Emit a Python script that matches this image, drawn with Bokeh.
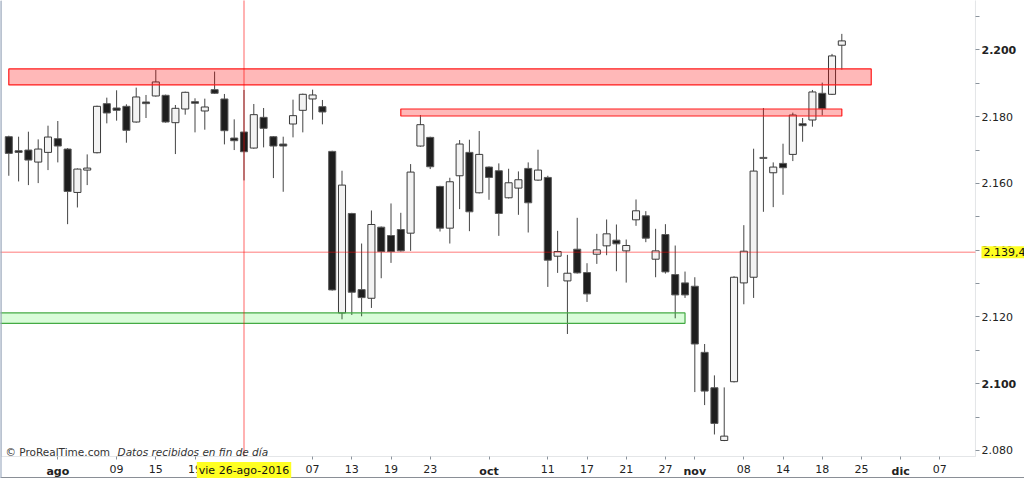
from bokeh.plotting import figure
from bokeh.models import (FixedTicker, Label, Span, ColumnDataSource, Range1d, LinearAxis,
                          BoxAnnotation)
from bokeh.embed import file_html
from bokeh.resources import INLINE

# ---- data: daily candles (S&P 500, 25-jul-2016 .. 22-nov-2016), trading-day index on x ----
opens = [2174.0, 2169.8, 2170.0, 2166.4, 2169.3, 2173.4, 2170.3, 2157.3, 2164.0, 2169.2,
         2183.9, 2182.6, 2183.1, 2178.4, 2184.4, 2186.2, 2186.4, 2178.2, 2182.3, 2184.5,
         2181.7, 2188.1, 2185.3, 2173.6, 2175.4, 2170.6, 2179.8, 2174.0, 2171.8, 2177.8,
         2181.9, 2185.3, 2183.0, 2169.6, 2121.2, 2151.0, 2128.2, 2125.6, 2146.9, 2144.4,
         2146.2, 2145.1, 2171.2, 2173.8, 2159.1, 2146.6, 2162.3, 2169.3, 2157.2, 2164.9,
         2163.8, 2155.7, 2158.6, 2164.5, 2161.0, 2161.8, 2138.2, 2130.8, 2140.3, 2133.3,
         2138.8, 2141.3, 2143.0, 2139.8, 2149.1, 2150.3, 2137.3, 2144.7, 2132.7, 2130.2,
         2129.2, 2109.4, 2098.8, 2083.0, 2100.6, 2130.2, 2131.9, 2167.8, 2163.2, 2166.0,
         2168.7, 2177.9, 2179.0, 2187.0, 2186.7, 2201.4]
highs = [2174.3, 2174.0, 2175.5, 2173.2, 2177.3, 2178.7, 2170.6, 2164.5, 2168.7, 2183.3,
         2185.7, 2187.9, 2183.7, 2188.7, 2186.5, 2194.0, 2186.6, 2183.5, 2187.5, 2185.5,
         2185.4, 2193.5, 2186.8, 2179.2, 2188.0, 2183.8, 2182.6, 2174.2, 2174.0, 2185.1,
         2186.9, 2188.1, 2185.0, 2169.8, 2163.8, 2151.2, 2142.0, 2151.9, 2147.1, 2154.0,
         2151.2, 2165.8, 2180.5, 2174.0, 2159.3, 2161.7, 2173.0, 2173.1, 2175.7, 2165.1,
         2166.0, 2164.4, 2163.6, 2166.3, 2170.1, 2162.3, 2145.8, 2138.6, 2149.7, 2136.1,
         2144.9, 2149.2, 2147.7, 2143.2, 2155.2, 2151.7, 2146.4, 2147.8, 2141.4, 2133.6,
         2131.9, 2111.9, 2102.5, 2098.9, 2132.2, 2147.5, 2170.4, 2182.6, 2166.3, 2171.9,
         2181.2, 2179.6, 2188.0, 2190.2, 2198.8, 2204.8]
lows = [2162.3, 2160.6, 2159.5, 2160.1, 2164.0, 2166.3, 2147.8, 2152.8, 2159.5, 2169.0,
        2178.0, 2178.8, 2172.2, 2178.2, 2179.6, 2186.0, 2178.2, 2168.8, 2180.6, 2175.3,
        2176.1, 2186.8, 2171.7, 2170.0, 2160.9, 2170.4, 2170.8, 2161.6, 2157.5, 2173.8,
        2175.3, 2179.1, 2177.7, 2127.9, 2119.3, 2120.6, 2120.2, 2122.7, 2131.6, 2136.2,
        2139.6, 2139.8, 2171.0, 2164.3, 2145.6, 2142.0, 2152.3, 2145.7, 2157.0, 2155.1,
        2144.3, 2155.5, 2150.6, 2145.3, 2160.8, 2129.0, 2133.2, 2114.9, 2133.0, 2124.5,
        2135.9, 2138.5, 2133.7, 2130.3, 2147.3, 2142.4, 2131.9, 2133.0, 2119.6, 2125.7,
        2097.5, 2093.6, 2084.8, 2082.8, 2100.4, 2123.8, 2125.7, 2151.5, 2152.9, 2156.6,
        2166.7, 2172.5, 2177.0, 2180.4, 2186.5, 2194.1]
closes = [2169.0, 2169.3, 2167.0, 2170.3, 2173.9, 2171.2, 2157.6, 2164.3, 2164.6, 2183.1,
          2181.1, 2181.9, 2175.9, 2185.9, 2183.9, 2190.4, 2178.4, 2182.5, 2187.3, 2184.0,
          2182.9, 2187.0, 2175.8, 2172.8, 2169.5, 2180.6, 2176.5, 2171.2, 2171.2, 2180.3,
          2186.7, 2186.5, 2181.4, 2128.1, 2159.5, 2127.4, 2125.8, 2147.7, 2139.6, 2139.6,
          2139.8, 2163.4, 2177.6, 2165.0, 2146.6, 2160.5, 2171.8, 2151.5, 2168.7, 2161.8,
          2151.0, 2160.2, 2161.1, 2154.2, 2164.0, 2137.0, 2139.6, 2133.1, 2133.2, 2126.9,
          2140.1, 2144.9, 2141.9, 2141.4, 2151.8, 2143.6, 2139.8, 2133.5, 2126.6, 2126.6,
          2111.9, 2097.8, 2088.1, 2084.3, 2131.9, 2139.7, 2163.7, 2167.5, 2164.9, 2164.7,
          2180.5, 2177.3, 2187.4, 2182.4, 2198.2, 2202.7]

# x-axis tick labels (trading-day index -> label)
x_tick_idx = [5, 11, 15, 19, 31, 35, 39, 43, 49, 55, 59, 63, 67, 70, 75, 79, 83, 87, 91, 95]
x_tick_text = ["ago", "09", "15", "19", "07", "13", "19", "23", "oct", "11", "17", "21",
               "27", "nov", "08", "14", "18", "25", "dic", "07"]
month_labels = ["ago", "oct", "nov", "dic"]

# y-axis ticks
y_ticks = [2080, 2100, 2120, 2140, 2160, 2180, 2200]
y_tick_text = ["2.080", "2.100", "2.120", "2.140", "2.160", "2.180", "2.200"]
y_bold = [2100, 2200]
y_minor = [2090, 2110, 2130, 2150, 2170, 2190, 2210]

# support / resistance zones
zone_left = [0, 40, -1]
zone_right = [88, 85, 69]
zone_top = [2194.3, 2182.3, 2121.2]
zone_bottom = [2189.5, 2180.2, 2118.1]
zone_fill = ["#ff0000", "#ff0000", "#00ee00"]
zone_alpha = [0.28, 0.28, 0.15]
zone_line = ["#ff1a1a", "#ff1a1a", "#44aa44"]

# crosshair
cross_idx = 24
cross_date = "vie 26-ago-2016"
cross_value = 2139.4
cross_value_text = "2.139,4"

FONT = "DejaVu Sans"
AXCOL = "#a4acb4"
TICKCOL = "#8a939c"

# plot-area geometry (data units): the price panel ends at the right axis / bottom axis
X0, X1 = -0.847, 103.64          # whole canvas
Y0, Y1 = 2071.61, 2214.8
AX_X = 98.64                      # location of the price axis
AX_Y = 2078.2                     # location of the date axis
PANEL_LEFT = -0.745

xs = list(range(len(opens)))
up = [c >= o for o, c in zip(opens, closes)]
src = ColumnDataSource(dict(
    x=xs, high=highs, low=lows,
    top=[max(o, c) for o, c in zip(opens, closes)],
    bottom=[min(o, c) for o, c in zip(opens, closes)],
    fill=["#f3f3f3" if u else "#1e1e1e" for u in up],
    line=["#3a3a3a" if u else "#5a5a5a" for u in up],
))

p = figure(width=1024, height=478, x_range=Range1d(X0, X1), y_range=Range1d(Y0, Y1),
           x_axis_location=None, y_axis_location=None,
           toolbar_location=None, output_backend="svg",
           min_border_left=0, min_border_right=0, min_border_top=0, min_border_bottom=0)
p.background_fill_color = "white"
p.border_fill_color = "white"
p.outline_line_color = None
p.grid.visible = False

# candles
p.segment(x0="x", y0="high", x1="x", y1="low", source=src, line_color="#444444", line_width=1)
p.vbar(x="x", top="top", bottom="bottom", width=0.72, source=src,
       fill_color="fill", line_color="line", line_width=1)

# zones drawn on top, semi-transparent
zsrc = ColumnDataSource(dict(left=zone_left, right=zone_right, top=zone_top, bottom=zone_bottom,
                             fill=zone_fill, alpha=zone_alpha, line=zone_line))
p.quad(left="left", right="right", top="top", bottom="bottom", source=zsrc,
       fill_color="fill", fill_alpha="alpha", line_color="line", line_width=1.2)

# crosshair (limited to price panel)
p.add_layout(BoxAnnotation(left=cross_idx, right=cross_idx, bottom=AX_Y, top=Y1 + 1,
                           fill_color=None, line_color="#ff0000", line_alpha=0.33, line_width=1))
p.add_layout(BoxAnnotation(left=X0 - 1, right=AX_X, bottom=cross_value, top=cross_value,
                           fill_color=None, line_color="#ff0000", line_alpha=0.28, line_width=1))

# price panel frame
p.add_layout(BoxAnnotation(left=PANEL_LEFT, right=AX_X, bottom=AX_Y, top=Y1 + 1,
                           fill_color=None, line_color=AXCOL, line_width=1))
p.add_layout(Span(location=Y0, dimension="width", line_color="#8a8f96", line_width=3))
p.add_layout(Span(location=X0, dimension="height", line_color="#8fa0b8", line_width=2))


def style_axis(ax, bold=False):
    ax.major_label_text_font = FONT
    ax.major_label_text_font_size = "11px"
    ax.major_label_text_color = "#222222"
    ax.major_label_text_font_style = "bold" if bold else "normal"
    ax.axis_line_color = None
    ax.major_tick_in = 0
    ax.minor_tick_in = 0
    ax.major_tick_line_color = None if bold else TICKCOL
    ax.minor_tick_line_color = None if bold else TICKCOL


# x axes (normal labels + bold month labels)
xa = LinearAxis(fixed_location=AX_Y,
                ticker=FixedTicker(ticks=x_tick_idx, minor_ticks=[]),
                major_label_overrides={i: ("" if t in month_labels else t)
                                       for i, t in zip(x_tick_idx, x_tick_text)})
style_axis(xa)
xa.major_tick_out = 3
xa.major_label_standoff = 5
xb = LinearAxis(fixed_location=AX_Y,
                ticker=FixedTicker(ticks=[i for i, t in zip(x_tick_idx, x_tick_text) if t in month_labels],
                                   minor_ticks=[]),
                major_label_overrides={i: t for i, t in zip(x_tick_idx, x_tick_text) if t in month_labels})
style_axis(xb, bold=True)
xb.major_tick_out = 3
xb.major_label_standoff = 5
p.add_layout(xa, "below")
p.add_layout(xb, "below")

# y axes (normal labels + bold labels)
ya = LinearAxis(fixed_location=AX_X,
                ticker=FixedTicker(ticks=y_ticks, minor_ticks=y_minor),
                major_label_overrides={v: ("" if v in y_bold else t) for v, t in zip(y_ticks, y_tick_text)})
style_axis(ya)
ya.major_tick_out = 4
ya.minor_tick_out = 4
ya.major_label_standoff = 2
yb = LinearAxis(fixed_location=AX_X,
                ticker=FixedTicker(ticks=y_bold, minor_ticks=[]),
                major_label_overrides={v: t for v, t in zip(y_ticks, y_tick_text) if v in y_bold})
style_axis(yb, bold=True)
yb.major_tick_out = 4
yb.major_label_standoff = 2
p.add_layout(ya, "right")
p.add_layout(yb, "right")

# crosshair labels
p.add_layout(Label(x=cross_idx, y=2074.0, text=cross_date, text_font=FONT, text_font_size="11px",
                   text_color="#111111", text_align="center", text_baseline="middle",
                   background_fill_color="#ffff22", padding=2))
p.add_layout(Label(x=99.25, y=cross_value, text=cross_value_text, text_font=FONT, text_font_size="11px",
                   text_color="#111111", text_align="left", text_baseline="middle",
                   background_fill_color="#ffff22", padding=2))

# copyright
p.add_layout(Label(x=-0.34, y=2079.6, text="© ProRealTime.com", text_font=FONT, text_font_size="10.5px",
                   text_color="#333333", text_align="left", text_baseline="middle"))
p.add_layout(Label(x=11.1, y=2079.6, text="Datos recibidos en fin de día", text_font=FONT,
                   text_font_size="10.5px", text_font_style="italic", text_color="#333333",
                   text_align="left", text_baseline="middle"))

open("out.html", "w").write(file_html(p, INLINE))
